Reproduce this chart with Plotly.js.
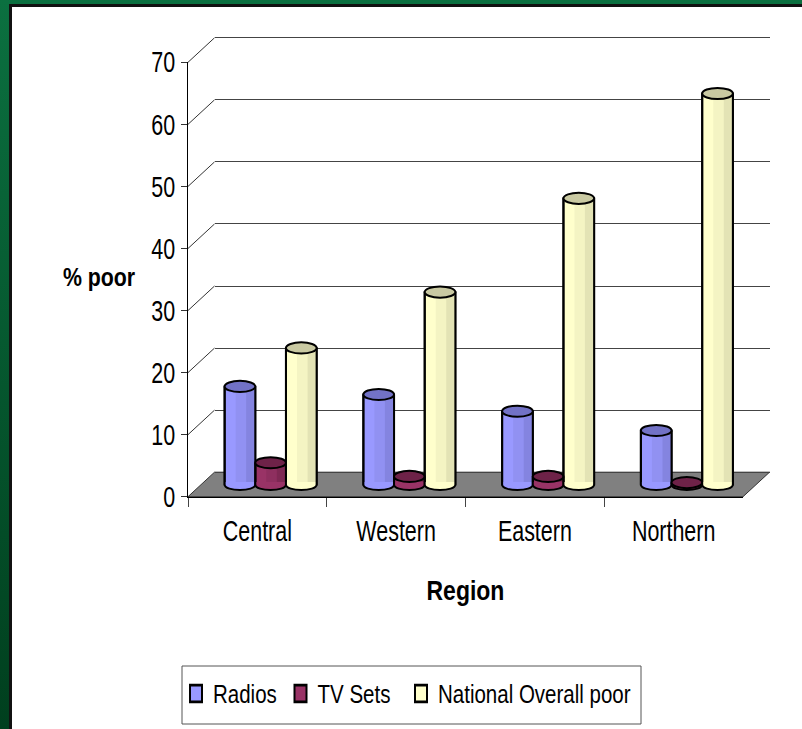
<!DOCTYPE html>
<html>
<head>
<meta charset="utf-8">
<title>% poor by region</title>
<script src="https://cdn.plot.ly/plotly-3.0.1.min.js"></script>
<style>
  html, body { margin: 0; padding: 0; width: 802px; height: 729px; overflow: hidden; }
  body { background: linear-gradient(#0b7040, #003f1e); position: relative; }
  #edge  { position: absolute; left: 9px;  top: 4px; right: 0; bottom: 0; background: #111; }
  #sheet { position: absolute; left: 12px; top: 7px; right: 0; bottom: 0; background: #fff; }
  #chart { position: absolute; left: 0; top: 0; width: 802px; height: 729px; }
</style>
</head>
<body>
<div id="edge"></div>
<div id="sheet"></div>
<div id="chart"></div>
<script>
// ---- data ----
const regions = ['Central', 'Western', 'Eastern', 'Northern'];
const radios = [15.8, 14.5, 11.8, 8.7];
const tvSets = [3.5, 1.3, 1.3, 0.3];
const nationalPoor = [22.0, 31.0, 46.1, 63.0];
const seriesNames = ['Radios', 'TV Sets', 'National Overall poor'];
const yTicks = [0, 10, 20, 30, 40, 50, 60, 70];

// ---- look ----
const W = 802, H = 729;
const FONT = 'Liberation Sans, Arial, sans-serif';
const palette = [
  { main: '#9999FF', mid: '#9191F2', dark: '#8484E0', cap: '#7272C6' },
  { main: '#993366', mid: '#8E2F5F', dark: '#7E2853', cap: '#6E2248' },
  { main: '#FFFFCC', mid: '#F4F4C3', dark: '#E3E3B5', cap: '#C9C9A2' }
];
// 3-D box in pixels: front plane, and the depth offset of the back wall
const FRONT_L = 188, FRONT_R = 743, ZERO_Y = 496.7, TOP_Y = 62.3;
const DEPTH_X = 26.5, DEPTH_Y = 24.5;
const Y_MAX = 70;
const UNIT = (ZERO_Y - TOP_Y) / Y_MAX;
const BAR_W = 0.221;          // bar width in category units
const CAP = 0.9;              // half-height of the cylinder ends, in value units
const Y3_MIN = -2;            // room below zero for the rounded bottoms
const WALL_PAD = 1;           // keeps the end gridlines of the back wall inside its range

const px = x => x / W;
const py = y => 1 - y / H;

const seriesValues = [radios, tvSets, nationalPoor];
const offsets = [-1.5 * BAR_W, -0.5 * BAR_W, 0.5 * BAR_W];

// ---- traces ----
const traces = [
  // back wall subplot (gridlines only)
  { type: 'scatter', mode: 'markers', x: [], y: [], xaxis: 'x', yaxis: 'y', showlegend: false, hoverinfo: 'skip' },
  // front axes: category labels and value ticks
  { type: 'scatter', mode: 'markers', x: regions, y: regions.map(() => null), xaxis: 'x2', yaxis: 'y2', showlegend: false, hoverinfo: 'skip' }
];
seriesValues.forEach((vals, k) => {
  traces.push({
    type: 'bar', name: seriesNames[k], x: regions, y: vals,
    xaxis: 'x3', yaxis: 'y3',
    width: BAR_W, offset: offsets[k],
    marker: { color: palette[k].main, line: { color: '#000', width: 2 } },
    hoverinfo: 'name+y'
  });
});

// ---- shapes ----
const shapes = [];
const yFront = v => ZERO_Y - v * UNIT;

// floor
shapes.push({
  type: 'path', xref: 'paper', yref: 'paper', layer: 'below',
  path: `M ${px(FRONT_L)},${py(ZERO_Y)} L ${px(FRONT_R)},${py(ZERO_Y)} ` +
        `L ${px(FRONT_R + DEPTH_X)},${py(ZERO_Y - DEPTH_Y)} L ${px(FRONT_L + DEPTH_X)},${py(ZERO_Y - DEPTH_Y)} Z`,
  fillcolor: '#808080', line: { color: '#333', width: 1 }
});
// side-wall diagonals joining front ticks to back gridlines
yTicks.filter(t => t > 0).forEach(t => {
  shapes.push({
    type: 'line', xref: 'paper', yref: 'paper', layer: 'below',
    x0: px(FRONT_L), y0: py(yFront(t)),
    x1: px(FRONT_L + DEPTH_X), y1: py(yFront(t) - DEPTH_Y),
    line: { color: '#333', width: 1 }
  });
});
// legend frame
shapes.push({
  type: 'rect', xref: 'paper', yref: 'paper', layer: 'below',
  x0: px(182), x1: px(641), y0: py(724), y1: py(666),
  line: { color: '#555', width: 1 }, fillcolor: 'rgba(0,0,0,0)'
});

// cylinders: shading strips, rounded bottom, outline, top cap
seriesValues.forEach((vals, k) => {
  const c = palette[k];
  vals.forEach((v, i) => {
    const xl = i + offsets[k], xr = xl + BAR_W;
    const ref = { xref: 'x3', yref: 'y3', layer: 'above' };
    shapes.push(Object.assign({ type: 'rect', x0: xl + 0.36 * BAR_W, x1: xl + 0.7 * BAR_W, y0: 0, y1: v,
      fillcolor: c.mid, line: { width: 0 } }, ref));
    shapes.push(Object.assign({ type: 'rect', x0: xl + 0.7 * BAR_W, x1: xr, y0: 0, y1: v,
      fillcolor: c.dark, line: { width: 0 } }, ref));
    const lip = Math.min(0.4, v);
    const k4 = CAP * 4 / 3;
    shapes.push(Object.assign({ type: 'path',
      path: `M ${xl},${lip} L ${xl},0 C ${xl},${-k4} ${xr},${-k4} ${xr},0 L ${xr},${lip} Z`,
      fillcolor: c.main, line: { width: 0 } }, ref));
    shapes.push(Object.assign({ type: 'path',
      path: `M ${xl},${v} L ${xl},0 C ${xl},${-k4} ${xr},${-k4} ${xr},0 L ${xr},${v}`,
      fillcolor: 'rgba(0,0,0,0)', line: { color: '#000', width: 2 } }, ref));
    shapes.push(Object.assign({ type: 'circle', x0: xl, x1: xr, y0: v - CAP, y1: v + CAP,
      fillcolor: c.cap, line: { color: '#000', width: 2 } }, ref));
  });
});

// ---- layout ----
const layout = {
  width: W, height: H,
  margin: { l: 0, r: 0, t: 0, b: 0, pad: 0 },
  paper_bgcolor: 'rgba(0,0,0,0)', plot_bgcolor: 'rgba(0,0,0,0)',
  font: { family: FONT, color: '#000', size: 29 },
  barmode: 'overlay',
  showlegend: true,
  legend: {
    orientation: 'h', x: px(186), y: py(676), xanchor: 'left', yanchor: 'top',
    bgcolor: 'rgba(0,0,0,0)', borderwidth: 0, font: { size: 25, family: FONT },
    traceorder: 'normal', itemclick: false
  },
  // back wall
  xaxis: { domain: [px(FRONT_L + DEPTH_X), px(FRONT_R + DEPTH_X)], range: [0, 1], visible: false, anchor: 'y' },
  yaxis: {
    domain: [py(ZERO_Y - DEPTH_Y + WALL_PAD * UNIT), py(TOP_Y - DEPTH_Y - WALL_PAD * UNIT)],
    range: [-WALL_PAD, Y_MAX + WALL_PAD], anchor: 'x',
    tickvals: yTicks, showgrid: true, gridcolor: '#444', gridwidth: 1,
    showline: false, zeroline: false, showticklabels: false, ticks: ''
  },
  // front axes
  xaxis2: {
    type: 'category', domain: [px(FRONT_L), px(FRONT_R)], range: [-0.5, 3.5], anchor: 'y2',
    showline: true, linecolor: '#000', linewidth: 1, showgrid: false, zeroline: false,
    ticks: 'outside', tickson: 'boundaries', ticklen: 9, tickcolor: '#444', tickwidth: 1,
    ticklabelstandoff: 8,
    tickfont: { size: 29, family: FONT }
  },
  yaxis2: {
    domain: [py(ZERO_Y), py(TOP_Y)], range: [0, Y_MAX], anchor: 'x2',
    tickvals: yTicks, showline: true, linecolor: '#000', linewidth: 1,
    showgrid: false, zeroline: false, ticks: 'outside', ticklen: 6, tickcolor: '#333',
    tickfont: { size: 29, family: FONT }
  },
  // cylinders, set half a depth step back
  xaxis3: { type: 'category', domain: [px(FRONT_L + DEPTH_X / 2), px(FRONT_R + DEPTH_X / 2)],
            range: [-0.5, 3.5], anchor: 'y3', visible: false },
  yaxis3: { domain: [py(ZERO_Y - DEPTH_Y / 2 - Y3_MIN * UNIT), py(TOP_Y - DEPTH_Y / 2)],
            range: [Y3_MIN, Y_MAX], anchor: 'x3', visible: false },
  shapes: shapes,
  annotations: [
    { text: '<b>% poor</b>', xref: 'paper', yref: 'paper', x: px(99), y: py(277),
      xanchor: 'center', yanchor: 'middle', showarrow: false, font: { size: 26, family: FONT } },
    { text: '<b>Region</b>', xref: 'paper', yref: 'paper', x: px(465), y: py(590),
      xanchor: 'center', yanchor: 'middle', showarrow: false, font: { size: 28, family: FONT } }
  ]
};

// condensed lettering: narrow each label in place
function squeeze(el, f) {
  const w = el.getComputedTextLength();
  if (!w) return;
  el.setAttribute('textLength', (w * f).toFixed(2));
  el.setAttribute('lengthAdjust', 'spacingAndGlyphs');
}

Plotly.newPlot('chart', traces, layout, { displayModeBar: false, staticPlot: true }).then(gd => {
  gd.querySelectorAll('.xaxislayer-above text, .yaxislayer-above text').forEach(t => squeeze(t, 0.74));
  gd.querySelectorAll('.annotation-text').forEach(t => squeeze(t, 0.82));
  gd.querySelectorAll('.legend .legendtext').forEach(t => {
    squeeze(t, 0.82);
    t.setAttribute('x', (parseFloat(t.getAttribute('x') || '0') - 3).toString());
  });

  // legend entries placed at fixed symbol centres
  gd.querySelectorAll('.legend [clip-path]').forEach(n => n.removeAttribute('clip-path'));
  const symbolX = [196, 300.5, 421], symbolY = 693.5;
  gd.querySelectorAll('.legend .traces').forEach((g, i) => {
    const sym = g.querySelector('.legendpoints path');
    if (!sym) return;
    const r = sym.getBoundingClientRect();
    const cx = (r.left + r.right) / 2, cy = (r.top + r.bottom) / 2;
    const m = /translate\(\s*([-\d.e]+)[ ,]+([-\d.e]+)\s*\)/.exec(g.getAttribute('transform') || 'translate(0,0)');
    const tx = +m[1] + symbolX[i] - cx, ty = +m[2] + symbolY - cy;
    g.setAttribute('transform', `translate(${tx},${ty})`);
    sym.setAttribute('transform', ((sym.getAttribute('transform') || '') + ' scale(1,1.4)').trim());
  });
});
</script>
</body>
</html>
